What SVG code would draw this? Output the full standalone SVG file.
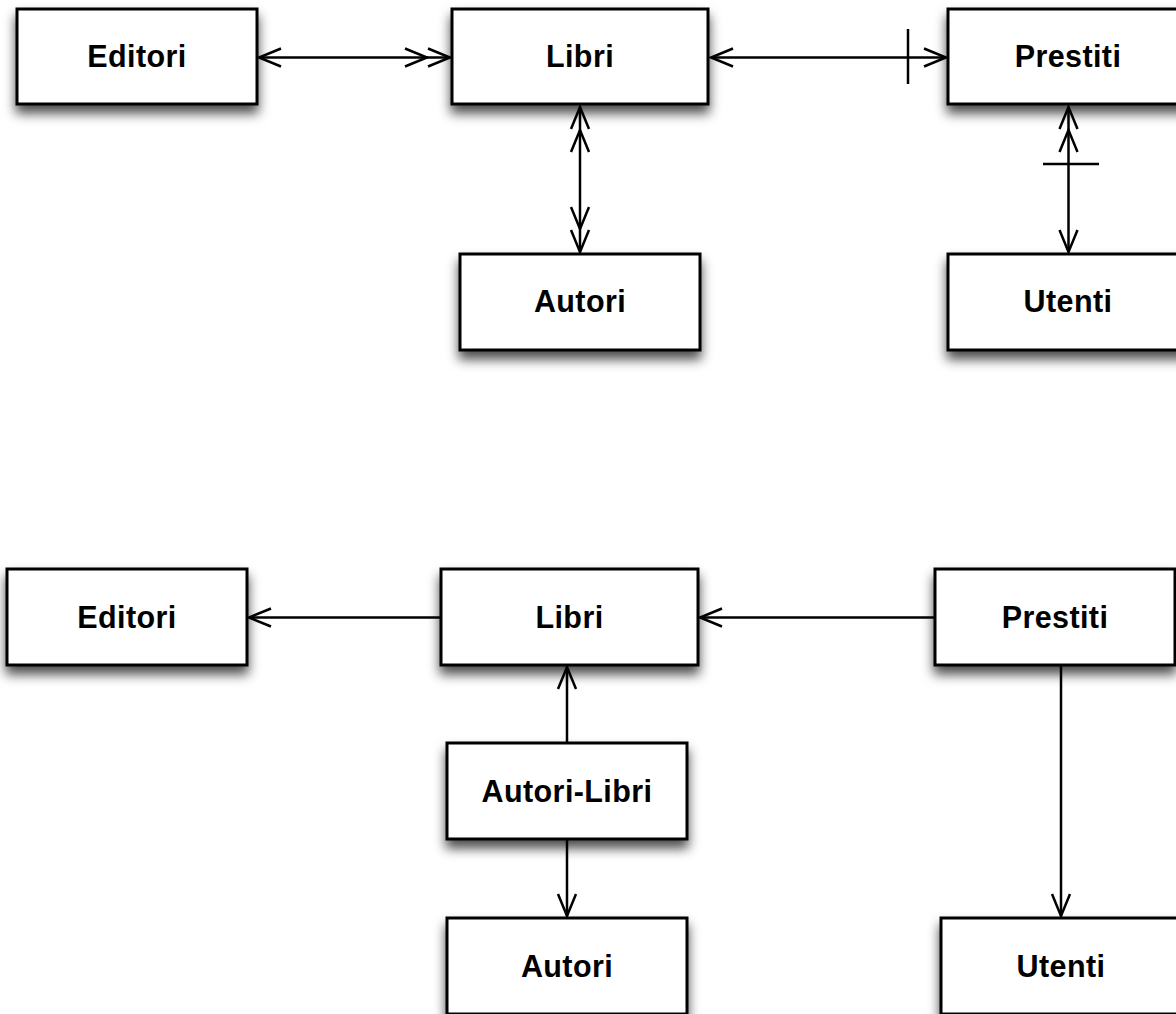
<svg xmlns="http://www.w3.org/2000/svg" width="1176" height="1014" viewBox="0 0 1176 1014">
<style>
.box{fill:#fff;stroke:#000;stroke-width:3;filter:url(#sh)}
.lbl{font-family:"Liberation Sans",Arial,Helvetica,sans-serif;font-weight:bold;font-size:30.5px;text-anchor:middle;fill:#000;letter-spacing:0.4px}
.c{fill:none;stroke:#000;stroke-width:2.5}
.m{fill:none;stroke:#000;stroke-width:2.5;stroke-linejoin:miter}
</style>
<defs>
<filter id="sh" x="-20%" y="-30%" width="140%" height="170%">
<feDropShadow dx="0" dy="8" stdDeviation="6" flood-color="#000" flood-opacity="0.7"/>
</filter>
<marker id="one" markerUnits="userSpaceOnUse" viewBox="-26 -12 30 24" markerWidth="30" markerHeight="24" refX="0" refY="0" orient="auto-start-reverse" overflow="visible">
<path class="m" d="M-22 -9 L0 0 L-22 9"/>
</marker>
<marker id="two" markerUnits="userSpaceOnUse" viewBox="-50 -12 54 24" markerWidth="54" markerHeight="24" refX="0" refY="0" orient="auto-start-reverse" overflow="visible">
<path class="m" d="M-22 -9 L0 0 L-22 9 M-45 -9 L-23 0 L-45 9"/>
</marker>
</defs>
<rect width="1176" height="1014" fill="#fff"/>
<g id="nodes">
<g id="editori1"><rect class="box" x="17" y="9" width="240" height="95"/><text class="lbl" x="137" y="67">Editori</text></g>
<g id="libri1"><rect class="box" x="452" y="9" width="256" height="95"/><text class="lbl" x="580" y="67">Libri</text></g>
<g id="prestiti1"><rect class="box" x="948" y="9" width="240" height="95"/><text class="lbl" x="1068" y="67">Prestiti</text></g>
<g id="autori1"><rect class="box" x="460" y="254" width="240" height="96"/><text class="lbl" x="580" y="312">Autori</text></g>
<g id="utenti1"><rect class="box" x="948" y="254" width="240" height="96"/><text class="lbl" x="1068" y="312">Utenti</text></g>
<g id="editori2"><rect class="box" x="7" y="569" width="240" height="96"/><text class="lbl" x="127" y="628">Editori</text></g>
<g id="libri2"><rect class="box" x="441" y="569" width="257" height="96"/><text class="lbl" x="569.5" y="628">Libri</text></g>
<g id="prestiti2"><rect class="box" x="935" y="569" width="240" height="96"/><text class="lbl" x="1055" y="628">Prestiti</text></g>
<g id="autorilibri2"><rect class="box" x="447" y="743" width="240" height="96"/><text class="lbl" x="567" y="802">Autori-Libri</text></g>
<g id="autori2"><rect class="box" x="447" y="918" width="240" height="96"/><text class="lbl" x="567" y="977">Autori</text></g>
<g id="utenti2"><rect class="box" x="941" y="918" width="240" height="96"/><text class="lbl" x="1061" y="977">Utenti</text></g>
</g>
<g id="connectors">
<path class="c" d="M259 57.5 H450" marker-start="url(#one)" marker-end="url(#two)"/>
<path class="c" d="M711 57.5 H946" marker-start="url(#one)" marker-end="url(#one)"/>
<path class="c" d="M908 29 V84"/>
<path class="c" d="M580 107 V252" marker-start="url(#two)" marker-end="url(#two)"/>
<path class="c" d="M1068.5 107 V252" marker-start="url(#two)" marker-end="url(#one)"/>
<path class="c" d="M1043 164 H1099"/>
<path class="c" d="M441 617.5 H249" marker-end="url(#one)"/>
<path class="c" d="M935 617.5 H700" marker-end="url(#one)"/>
<path class="c" d="M567 743 V667" marker-end="url(#one)"/>
<path class="c" d="M567 839 V916" marker-end="url(#one)"/>
<path class="c" d="M1061 665 V916" marker-end="url(#one)"/>
</g>
</svg>
